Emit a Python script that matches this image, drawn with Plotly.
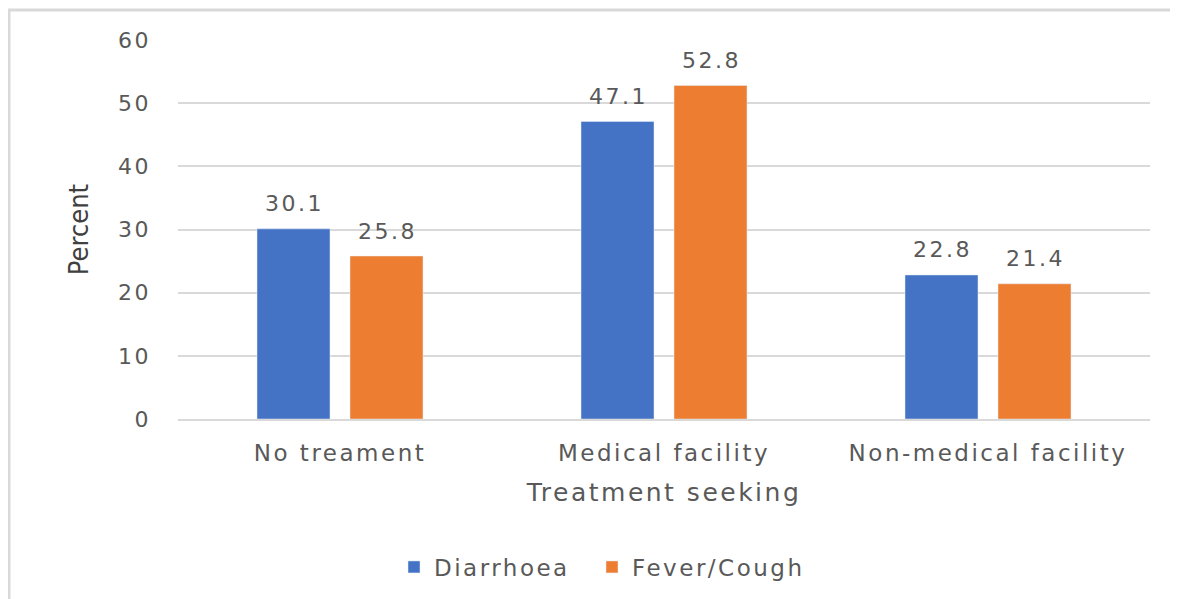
import plotly.graph_objects as go

categories = ["No treament", "Medical facility", "Non-medical facility"]
diarrhoea = [30.1, 47.1, 22.8]
fever_cough = [25.8, 52.8, 21.4]
series_names = ["Diarrhoea", "Fever/Cough"]
y_ticks = [0, 10, 20, 30, 40, 50, 60]

FONT = "DejaVu Sans"
GRAY = "#595959"
GRID = "#d9d9d9"
BLUE = "#4472c4"
ORANGE = "#ed7d31"

fig = go.Figure()
fig.add_trace(go.Bar(x=categories, y=diarrhoea, name=series_names[0], marker_color=BLUE))
fig.add_trace(go.Bar(x=categories, y=fever_cough, name=series_names[1], marker_color=ORANGE))

# page body has an 8px margin: figure origin is at page (8, 8)
OFF = 8
W, H = 1178 - OFF, 599 - OFF
L, R, T, B = 178 - OFF, 28, 40 - OFF, 179
pw, ph = W - L - R, H - T - B

def px(x_page):
    return (x_page - OFF - L) / pw

def py(y_page):
    return (H - B - (y_page - OFF)) / ph

# value labels, placed through the axes (offset within each group)
annotations = []
for vals, shift in ((diarrhoea, -46.5), (fever_cough, 46.5)):
    for c, v in zip(categories, vals):
        annotations.append(dict(x=c, y=v, xref="x", yref="y", text=f"{v:.1f}",
                                showarrow=False, xshift=shift + 1, yshift=25,
                                yanchor="middle",
                                font=dict(family=FONT, size=22, color=GRAY)))

fig.update_layout(
    width=W, height=H,
    margin=dict(l=L, r=R, t=T, b=B),
    paper_bgcolor="white", plot_bgcolor="white",
    barmode="group", bargap=0.426, bargroupgap=0.215,
    font=dict(family=FONT, color=GRAY, size=20),
    showlegend=True,
    legend=dict(orientation="h", x=px(592), y=py(567), xanchor="center", yanchor="middle",
                font=dict(family=FONT, size=23, color=GRAY), itemwidth=30,
                entrywidth=153, entrywidthmode="pixels",
                bgcolor="rgba(0,0,0,0)",
                traceorder="normal"),
    xaxis=dict(showgrid=False, showline=True, linecolor=GRID, linewidth=2,
               ticks="", tickfont=dict(family=FONT, size=23, color=GRAY),
               ticklabelstandoff=12,
               title=dict(text="Treatment seeking", standoff=19,
                          font=dict(family=FONT, size=25, color=GRAY))),
    yaxis=dict(range=[0, 60], tickvals=y_ticks, showgrid=True, gridcolor=GRID,
               gridwidth=2, zeroline=False, ticks="",
               tickfont=dict(family=FONT, size=22, color=GRAY),
               ticklabelstandoff=26,
               title=dict(text="Percent", standoff=26,
                          font=dict(family="DejaVu Sans Condensed", size=27, color="#404040"))),
    annotations=annotations,
    shapes=[
        dict(type="line", xref="paper", yref="paper", x0=px(9), x1=px(9), y0=py(10), y1=py(610),
             line=dict(color=GRID, width=3)),
        dict(type="line", xref="paper", yref="paper", x0=px(8), x1=px(1190), y0=py(10), y1=py(10),
             line=dict(color=GRID, width=3)),
    ],
)

# the reference typeface is set wide: add letter spacing to the rendered labels
post = """
(function(){
  function widen(){
    var gd = document.getElementById('{plot_id}');
    if(!gd) return;
    gd.querySelectorAll('text').forEach(function(t){
      if(t.classList.contains('ytitle')) return;
      t.style.letterSpacing = '2.5px';
    });
    gd.querySelectorAll('.legend, .legend *').forEach(function(e){
      e.removeAttribute('clip-path');
    });
  }
  widen();
  setTimeout(widen, 0);
  setTimeout(widen, 100);
})();
"""

fig.write_html("out.html", post_script=post)
